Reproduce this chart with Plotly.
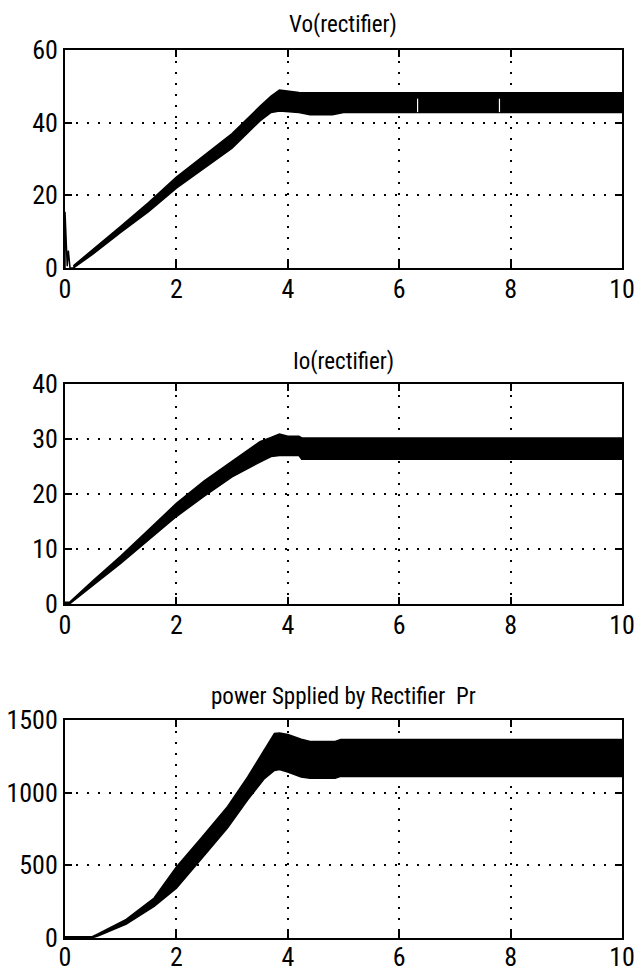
import plotly.graph_objects as go

# ---------------- data ----------------
x_ticks = [0, 2, 4, 6, 8, 10]

# Vo(rectifier): envelope of the ripple band
t_vo = [0.15, 0.5, 1.0, 1.5, 2.0, 2.5, 3.0, 3.5, 3.7, 3.85, 4.0, 4.2, 4.4, 4.8, 5.0, 10.0]
vo_upper = [0.6, 5.0, 11.5, 18.0, 25.0, 31.0, 37.0, 44.5, 47.3, 49.0, 48.7, 48.3, 48.2, 48.2, 48.2, 48.2]
vo_lower = [0.0, 3.8, 9.8, 15.5, 22.0, 27.5, 33.0, 40.5, 42.8, 43.2, 43.0, 42.8, 42.2, 42.2, 42.8, 42.8]
# initial start-up spike of Vo
t_vo_spike = [0.0, 0.0, 0.04, 0.06, 0.09, 0.15]
vo_spike = [0.0, 15.5, 0.5, 4.8, 0.0, 0.0]
# thin gaps visible inside the Vo band
t_vo_gap = [6.33, 7.8]
vo_gap_top = [46.6, 46.6]
vo_gap_bottom = [42.9, 42.9]
vo_ticks = [0, 20, 40, 60]

# Io(rectifier)
t_io = [0.0, 0.08, 0.5, 1.0, 1.5, 2.0, 2.5, 3.0, 3.5, 3.7, 3.85, 4.0, 4.2, 4.25, 10.0]
io_upper = [0.3, 0.3, 4.2, 8.7, 13.5, 18.3, 22.4, 26.0, 29.5, 30.3, 30.9, 30.5, 30.5, 30.2, 30.2]
io_lower = [0.0, 0.0, 3.4, 7.4, 11.6, 15.9, 19.6, 23.1, 25.8, 26.8, 27.0, 27.0, 27.0, 26.3, 26.3]
io_ticks = [0, 10, 20, 30, 40]

# power supplied by rectifier Pr
t_pr = [0.0, 0.48, 0.6, 1.1, 1.6, 2.0, 2.45, 2.92, 3.28, 3.58, 3.76, 3.85, 4.0, 4.24, 4.4, 4.85, 4.95, 10.0]
pr_upper = [8, 8, 30, 128, 275, 489, 690, 905, 1108, 1293, 1408, 1410, 1400, 1367, 1352, 1352, 1365, 1365]
pr_lower = [0, 0, 15, 95, 218, 342, 545, 759, 951, 1097, 1153, 1160, 1142, 1108, 1100, 1100, 1112, 1112]
pr_ticks = [0, 500, 1000, 1500]

titles = ["Vo(rectifier)", "Io(rectifier)", "power Spplied by Rectifier  Pr"]

# ---------------- figure ----------------
FONT = "Roboto Condensed, DejaVu Sans Condensed, sans-serif"
FS_TICK = 26
FS_TITLE = 23
W, H = 637, 968

fig = go.Figure()


def band(t, up, lo, xa, ya):
    fig.add_trace(go.Scatter(
        x=list(t) + list(t)[::-1],
        y=list(up) + list(lo)[::-1],
        fill="toself", fillcolor="black",
        mode="lines", line=dict(color="black", width=1.5),
        xaxis=xa, yaxis=ya, showlegend=False, hoverinfo="skip"))


band(t_vo, vo_upper, vo_lower, "x", "y")
fig.add_trace(go.Scatter(x=t_vo_spike, y=vo_spike, mode="lines",
                         line=dict(color="black", width=1.5),
                         xaxis="x", yaxis="y", showlegend=False))
for tg, gt, gb in zip(t_vo_gap, vo_gap_top, vo_gap_bottom):
    fig.add_trace(go.Scatter(x=[tg, tg], y=[gb, gt], mode="lines",
                             line=dict(color="white", width=1.2),
                             xaxis="x", yaxis="y", showlegend=False))
band(t_io, io_upper, io_lower, "x2", "y2")
band(t_pr, pr_upper, pr_lower, "x3", "y3")

x_dom = [65 / W, 622 / W]
panels = [(50, 268), (384, 604), (720, 938)]
yranges = [[0, 60], [0, 40], [0, 1500]]
yticks = [vo_ticks, io_ticks, pr_ticks]
title_y = [25, 361, 696]
x_standoff = [-3, -3, -5]

common = dict(showline=True, linecolor="black", linewidth=2, mirror="ticks",
              ticks="inside", ticklen=7, tickwidth=1.5, tickcolor="black",
              showgrid=True, gridcolor="black", gridwidth=1.5, griddash="2px,9px",
              zeroline=False, automargin=False,
              tickfont=dict(family=FONT, size=FS_TICK, color="black"))

layout = dict(width=W, height=H, margin=dict(l=0, r=0, t=0, b=0),
              paper_bgcolor="white", plot_bgcolor="white", showlegend=False,
              font=dict(family=FONT, size=FS_TICK, color="black"))
annotations = []
for i, (top, bot) in enumerate(panels):
    sfx = "" if i == 0 else str(i + 1)
    ydom = [1 - bot / H, 1 - top / H]
    layout["xaxis" + sfx] = dict(domain=x_dom, range=[0, 10], tickvals=x_ticks,
                                 anchor="y" + sfx, ticklabelstandoff=x_standoff[i], **common)
    layout["yaxis" + sfx] = dict(domain=ydom, range=yranges[i], tickvals=yticks[i],
                                 anchor="x" + sfx, ticklabelstandoff=0, **common)
    annotations.append(dict(text=titles[i], xref="paper", yref="paper",
                            x=(x_dom[0] + x_dom[1]) / 2, y=1 - title_y[i] / H,
                            xanchor="center", yanchor="middle", showarrow=False,
                            font=dict(family=FONT, size=FS_TITLE, color="black")))
layout["annotations"] = annotations
fig.update_layout(**layout)

fig.write_html("out.html", config={"displayModeBar": False},
               post_script="document.body.style.margin='0px';document.body.style.overflow='hidden';")
